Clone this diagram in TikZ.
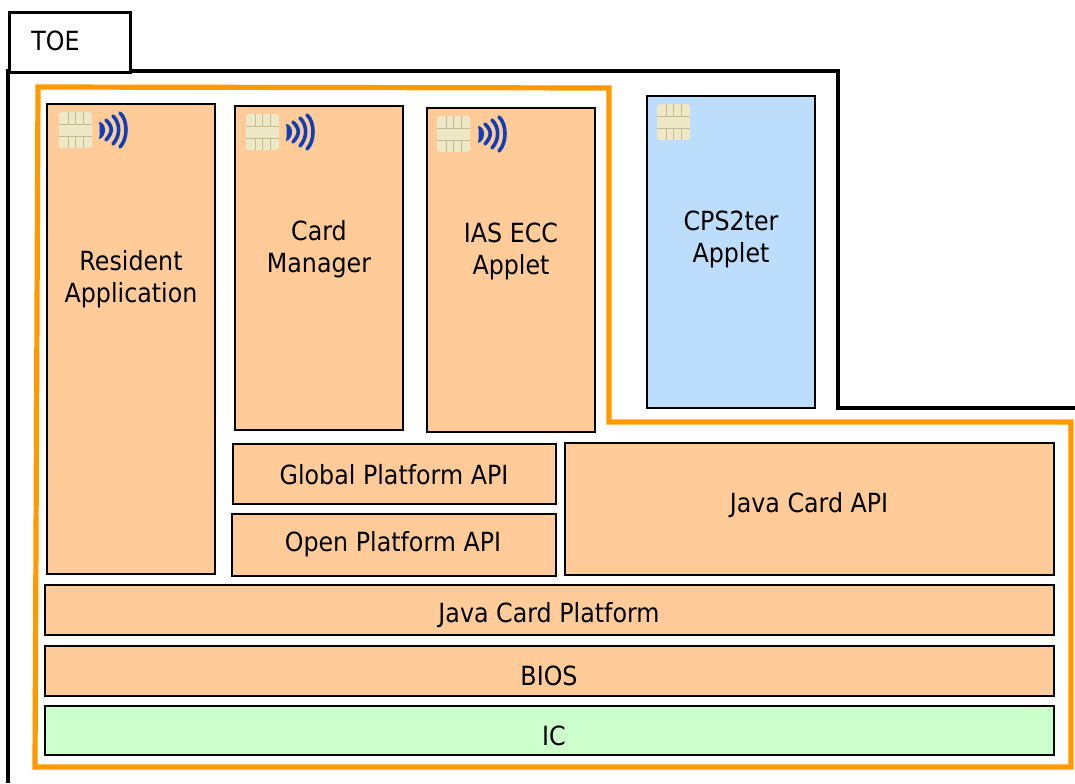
\documentclass[tikz,border=0pt]{standalone}
\usepackage{fontspec}
\setmainfont[FakeStretch=0.9]{DejaVu Sans}
\definecolor{boxor}{HTML}{FFCC99}
\definecolor{boxbl}{HTML}{BDDDFD}
\definecolor{boxgr}{HTML}{CCFFCC}
\definecolor{toeor}{HTML}{FF9900}
\definecolor{chipc}{HTML}{EFE8C6}
\definecolor{chipl}{HTML}{C4BA94}
\definecolor{wavec}{HTML}{0F3FB4}
\tikzset{
  x=0.75pt,y=-0.75pt,
  blockbox/.style={draw=black,line width=1.6pt,inner sep=0pt,anchor=north west},
  label text/.style={font=\fontsize{19.8}{24}\selectfont,align=center,text=black,inner sep=0pt},
  outline/.style={draw=black,line width=2.4pt,miter limit=10},
  scopeline/.style={draw=toeor,line width=3.9pt},
  pics/chip/.style={code={
    \fill[chipc,rounded corners=2pt] (0,0) rectangle (33,36);
    \draw[chipl,line width=0.6pt] (0,12) -- (33,12) (0,24) -- (33,24)
      (9,0) -- (9,12) (16.5,0) -- (16.5,12) (24,0) -- (24,12)
      (9,24) -- (9,36) (16.5,24) -- (16.5,36) (24,24) -- (24,36);
  }},
  pics/waves/.style={code={
    \fill[wavec] (0,10) .. controls (4,10) and (6,14) .. (6,18) .. controls (6,22) and (4,26) .. (0,27) .. controls (1,22) and (1,14) .. (0,10) -- cycle;
    \foreach \xa/\ya/\wa in {7/7/5,14/3/5.5,21/0/6}{
      \draw[wavec,line width=2.7pt,line cap=round] (\xa,\ya+1) .. controls (\xa+\wa+2,\ya+8) and (\xa+\wa+2,36-\ya-9) .. (\xa,36-\ya-1);
    }
  }}
}
\newcommand{\blk}[6]{\node[blockbox,fill=#2,minimum width=#5*0.75pt-#3*0.75pt,minimum height=#6*0.75pt-#4*0.75pt] (#1) at (#3-1,#4-1) {};}
\begin{document}
\begin{tikzpicture}
\useasboundingbox (0,0) rectangle (1075,783);
\coordinate (oa) at (8,783);
\coordinate (ob) at (8,71);
\coordinate (oc) at (838,71);
\coordinate (od) at (838,408);
\coordinate (oe) at (1076,408);
\draw[outline] (oa) -- (ob) -- (oc) -- (od) -- (oe);
\node[blockbox,line width=2.4pt,fill=white,minimum width=90.75pt,minimum height=45pt] (toe) at (8,11) {};
\node[label text] (toet) at (55.5,41) {TOE};
\coordinate (sa) at (38,87);
\coordinate (sb) at (609,88);
\coordinate (sc) at (609,422);
\coordinate (sd) at (1071,422);
\coordinate (se) at (1071,767);
\coordinate (sf) at (35,767);
\draw[scopeline] (sa) -- (sb) -- (sc) -- (sd) -- (se) -- (sf) -- cycle;
\blk{ra}{boxor}{47}{104}{215}{574}
\blk{cm}{boxor}{235}{106}{403}{430}
\blk{ias}{boxor}{427}{108}{595}{432}
\blk{cps}{boxbl}{647}{96}{815}{408}
\blk{gp}{boxor}{233}{444}{556}{504}
\blk{op}{boxor}{232}{514}{556}{576}
\blk{jc}{boxor}{565}{443}{1054}{575}
\blk{jcp}{boxor}{45}{585}{1054}{635}
\blk{bios}{boxor}{45}{646}{1054}{696}
\blk{ic}{boxgr}{45}{706}{1054}{755}
\node[label text] (rat) at (131,279) {Resident\\Application};
\node[label text] (cmt) at (319,249) {Card\\Manager};
\node[label text] (iast) at (511,251) {IAS ECC\\Applet};
\node[label text] (cpst) at (731,239) {CPS2ter\\Applet};
\node[label text] (gpt) at (394,475) {Global Platform API};
\node[label text] (opt) at (393,544) {Open Platform API};
\node[label text] (jct) at (809,505) {Java Card API};
\node[label text] (jcpt) at (549,615) {Java Card Platform};
\node[label text] (biost) at (549,676) {BIOS};
\node[label text] (ict) at (554,736) {IC};
\pic at (59,112) {chip};
\pic at (99,112) {waves};
\pic at (246,114) {chip};
\pic at (286,114) {waves};
\pic at (437,116) {chip};
\pic at (478,116) {waves};
\pic at (657,104) {chip};
\end{tikzpicture}
\end{document}
